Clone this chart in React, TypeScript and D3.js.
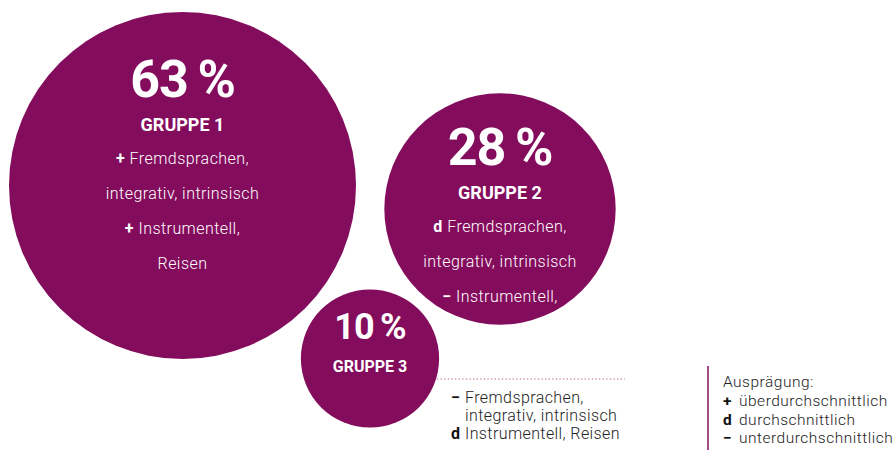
import React from "react";
import * as d3 from "d3";

// Group shares (percent) and their descriptive lines
const groups = ["GRUPPE 1", "GRUPPE 2", "GRUPPE 3"];
const shares = [63, 28, 10];
const groupLines: [string, string][][] = [
  [["+", "Fremdsprachen,"], ["", "integrativ, intrinsisch"], ["+", "Instrumentell,"], ["", "Reisen"]],
  [["d", "Fremdsprachen,"], ["", "integrativ, intrinsisch"], ["\u2212", "Instrumentell,"]],
  [],
];
const outsideLines: [string, string][] = [
  ["\u2212", "Fremdsprachen,"],
  ["", "integrativ, intrinsisch"],
  ["d", "Instrumentell, Reisen"],
];
const legendTitle = "Ausprägung:";
const legendItems: [string, string][] = [
  ["+", "überdurchschnittlich"],
  ["d", "durchschnittlich"],
  ["\u2212", "unterdurchschnittlich"],
];

const W = 895;
const H = 450;
const PURPLE = "#840c5d";
const FONT = "Roboto, 'Open Sans', sans-serif";

// bubble centres and text anchors (layout)
const layout = [
  { x: 182.5, y: 185.5, numY: 97, numSize: 52, grpY: 131, grpSize: 18 },
  { x: 500, y: 209, numY: 165, numSize: 52, grpY: 199, grpSize: 18 },
  { x: 370, y: 358.5, numY: 339, numSize: 36, grpY: 372, grpSize: 16 },
];

export default function App() {
  const r = d3.scaleSqrt().domain([0, d3.max(shares)!]).range([0, 173.5]);

  return (
    <svg
      width={W}
      height={H}
      style={{ position: "absolute", left: 0, top: 0, background: "#fff" }}
      fontFamily={FONT}
    >
      {shares.map((v, i) => {
        const c = layout[i];
        const rad = r(v);
        return (
          <g key={groups[i]}>
            <circle cx={c.x} cy={c.y} r={rad} fill={PURPLE} />
            <text
              x={c.x}
              y={c.numY}
              textAnchor="middle"
              fill="#fff"
              fontWeight={700}
              fontSize={c.numSize}
              letterSpacing={-1}
            >
              {`${v}\u2009%`}
            </text>
            <text
              x={c.x}
              y={c.grpY}
              textAnchor="middle"
              fill="#fff"
              fontWeight={700}
              fontSize={c.grpSize}
            >
              {groups[i]}
            </text>
            {groupLines[i].map(([sym, txt], j) => (
              <text
                key={j}
                x={c.x}
                y={c.grpY + 33 + j * 35}
                textAnchor="middle"
                fill="#fff"
                fontSize={16}
                fontWeight={300}
                letterSpacing={0.45}
              >
                {sym && (
                  <tspan fontWeight={700}>{sym + "\u00a0"}</tspan>
                )}
                {txt}
              </text>
            ))}
          </g>
        );
      })}

      {/* leader line from group 3 to its description */}
      <line
        x1={layout[2].x + r(shares[2]) - 2}
        x2={625}
        y1={379}
        y2={379}
        stroke="#b0508f"
        strokeWidth={1.2}
        strokeDasharray="1.2 2.4"
      />
      {outsideLines.map(([sym, txt], j) => (
        <g key={j}>
          {sym && (
            <text x={451} y={403 + j * 18} fill="#111" fontSize={16} fontWeight={700}>
              {sym}
            </text>
          )}
          <text x={465} y={403 + j * 18} fill="#222" fontSize={16} fontWeight={300} letterSpacing={0.4}>
            {txt}
          </text>
        </g>
      ))}

      {/* legend */}
      <line x1={708} x2={708} y1={366} y2={450} stroke={PURPLE} strokeWidth={1.5} />
      <text x={723} y={387} fill="#222" fontSize={15.5} fontWeight={300} letterSpacing={0.5}>
        {legendTitle}
      </text>
      {legendItems.map(([sym, txt], j) => (
        <g key={j}>
          <text x={723} y={406 + j * 18.5} fill="#111" fontSize={15.5} fontWeight={700}>
            {sym}
          </text>
          <text x={739} y={406 + j * 18.5} fill="#222" fontSize={15.5} fontWeight={300} letterSpacing={0.5}>
            {txt}
          </text>
        </g>
      ))}
    </svg>
  );
}
